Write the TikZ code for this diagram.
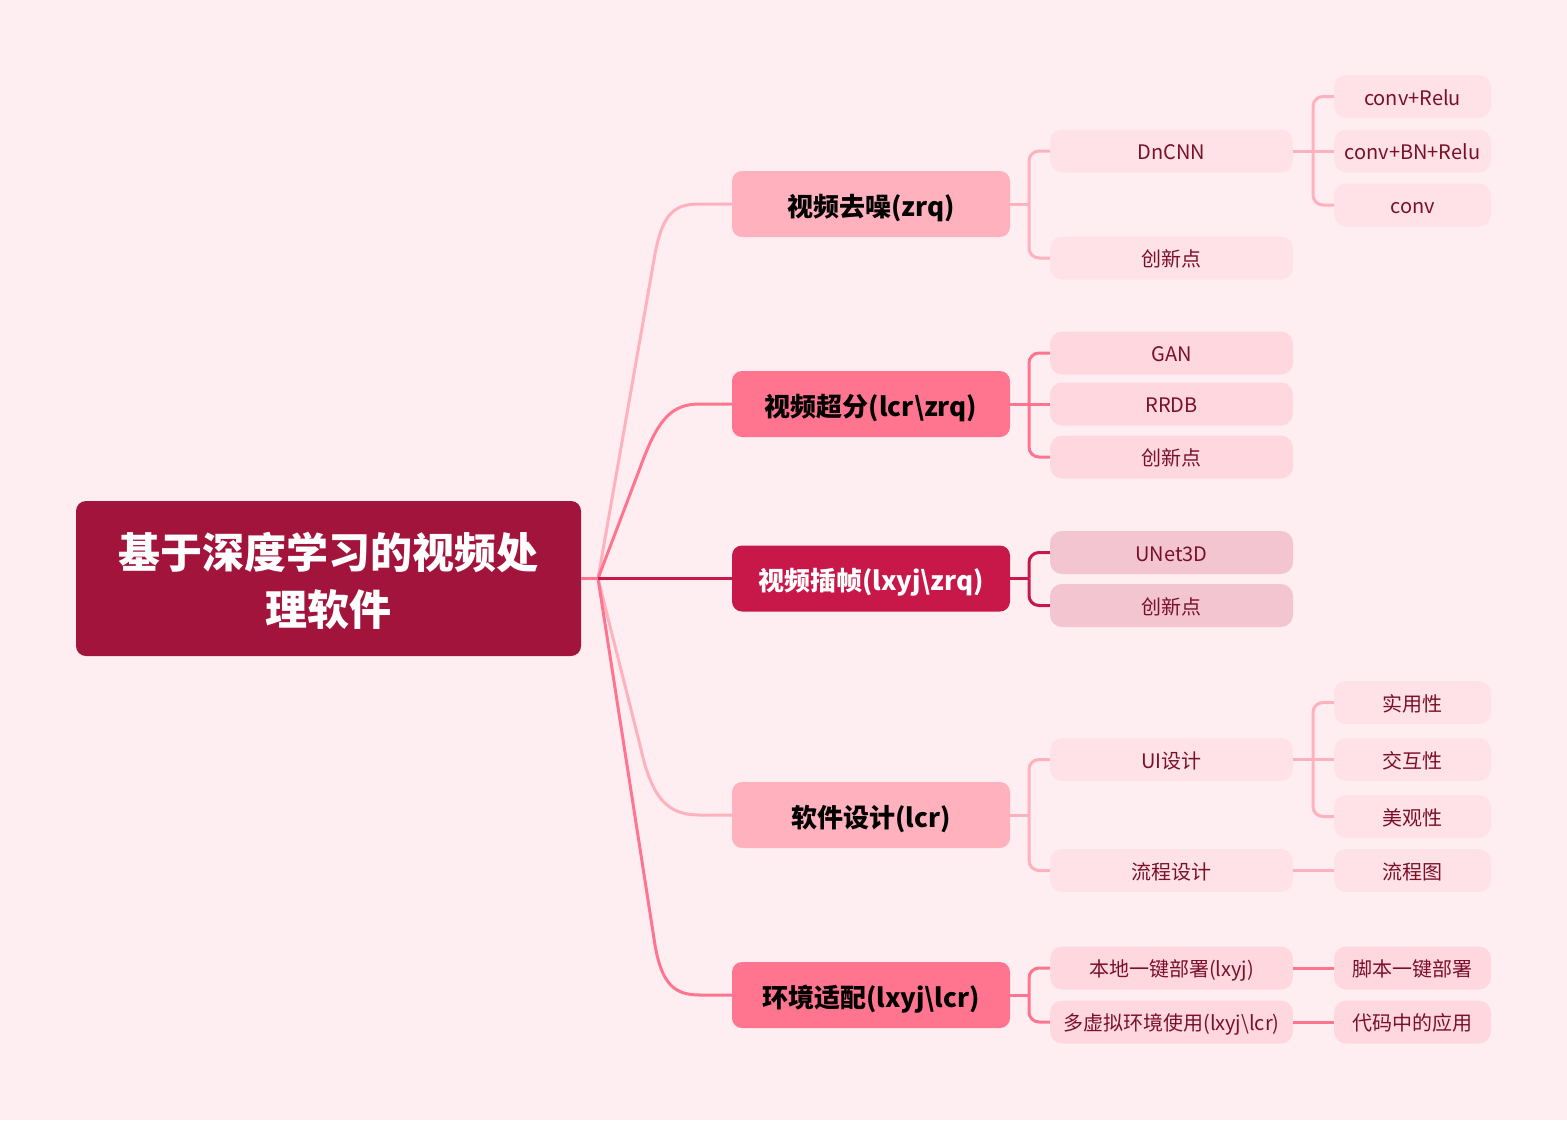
\documentclass[tikz,border=0pt]{standalone}
\usepackage{fontspec}
\setmainfont{Noto Sans CJK SC}
\definecolor{bg}{HTML}{FFEEF1}
\definecolor{rootc}{HTML}{A3143C}
\definecolor{pA}{HTML}{FFB1BE}
\definecolor{pB}{HTML}{FF7590}
\definecolor{pC}{HTML}{C8184A}
\definecolor{fA}{HTML}{FFE2E7}
\definecolor{fB}{HTML}{FFD8DF}
\definecolor{fC}{HTML}{F2C5D0}
\definecolor{txt}{HTML}{7A1028}
\tikzset{
 base/.style={rounded corners=10pt, inner sep=0pt},
 rootbox/.style={base, fill=rootc, text=white, minimum width=505pt, minimum height=155pt, font=\fontsize{42}{57}\selectfont\bfseries},
 lone/.style={base, minimum width=278pt, minimum height=66pt, font=\fontsize{26}{30}\selectfont\bfseries,
   execute at begin node={\rule[-0.2em]{0pt}{1.35em}}},
 ltwo/.style={base, rounded corners=12pt, minimum width=243pt, minimum height=43pt, text=txt, font=\fontsize{20}{24}\selectfont,
   execute at begin node={\rule[-0.2em]{0pt}{1.26em}}},
 lthree/.style={ltwo, minimum width=157pt},
 con/.style={line width=3pt},
 brk/.style={line width=3pt, rounded corners=10pt},
}
\begin{document}
\begin{tikzpicture}[x=1pt,y=-1pt]
\fill[bg] (0,0) rectangle (1567,1120);
\useasboundingbox (0,0) rectangle (1567,1120);

% root
\node[rootbox] (root) at (328.5,578.5) {\raisebox{-7pt}[\height][\depth]{\begin{tabular}{@{}c@{}}基于深度学习的视频处\\理软件\end{tabular}}};
\coordinate (fork) at (598,578.5);

% level 1
\node[lone, fill=pA] (n1) at (871,204) {视频去噪(zrq)};
\node[lone, fill=pB] (n2) at (871,404) {视频超分(lcr\textbackslash zrq)};
\node[lone, fill=pC, text=white] (n3) at (871,578.5) {视频插帧(lxyj\textbackslash zrq)};
\node[lone, fill=pA] (n4) at (871,815) {软件设计(lcr)};
\node[lone, fill=pB] (n5) at (871,995) {环境适配(lxyj\textbackslash lcr)};

% level 2
\node[ltwo, fill=fA] (a1) at (1171.5,151) {DnCNN};
\node[ltwo, fill=fA] (a2) at (1171.5,258) {创新点};
\node[ltwo, fill=fB] (b1) at (1171.5,353) {GAN};
\node[ltwo, fill=fB] (b2) at (1171.5,404) {RRDB};
\node[ltwo, fill=fB] (b3) at (1171.5,457) {创新点};
\node[ltwo, fill=fC] (c1) at (1171.5,552.5) {UNet3D};
\node[ltwo, fill=fC] (c2) at (1171.5,605.5) {创新点};
\node[ltwo, fill=fA] (d1) at (1171.5,759.5) {UI设计};
\node[ltwo, fill=fA] (d2) at (1171.5,870.5) {流程设计};
\node[ltwo, fill=fB] (e1) at (1171.5,968) {本地一键部署(lxyj)};
\node[ltwo, fill=fB] (e2) at (1171.5,1022) {多虚拟环境使用(lxyj\textbackslash lcr)};

% level 3
\node[lthree, fill=fA] (a11) at (1412.5,96.5) {conv+Relu};
\node[lthree, fill=fA] (a12) at (1412.5,151) {conv+BN+Relu};
\node[lthree, fill=fA] (a13) at (1412.5,205) {conv};
\node[lthree, fill=fA] (d11) at (1412.5,702.5) {实用性};
\node[lthree, fill=fA] (d12) at (1412.5,759.5) {交互性};
\node[lthree, fill=fA] (d13) at (1412.5,816.5) {美观性};
\node[lthree, fill=fA] (d21) at (1412.5,870.5) {流程图};
\node[lthree, fill=fB] (e11) at (1412.5,968) {脚本一键部署};
\node[lthree, fill=fB] (e21) at (1412.5,1022) {代码中的应用};

% root connectors
\draw[con, pA] (fork) -- (655,254) .. controls (663,212) and (675,204) .. (700,204) -- (n1.west);
\draw[con, pB] (fork) -- (640,468) .. controls (658,418) and (672,404) .. (700,404) -- (n2.west);
\draw[con, pA] (fork) -- (640,745) .. controls (652,800) and (668,815) .. (700,815) -- (n4.west);
\draw[con, pB] (fork) -- (655,945) .. controls (662,985) and (675,995) .. (700,995) -- (n5.west);
\draw[con, pB] (root.east) -- (fork);
\draw[con, pC] (fork) -- (n3.west);

% level1 -> level2
\coordinate (j1) at (1029,204);
\draw[con, pA] (n1.east) -- (j1);
\draw[brk, pA] (j1) -- (1029,151) -- (a1.west);
\draw[brk, pA] (j1) -- (1029,258) -- (a2.west);

\coordinate (j2) at (1029,404);
\draw[con, pB] (n2.east) -- (b2.west);
\draw[brk, pB] (j2) -- (1029,353) -- (b1.west);
\draw[brk, pB] (j2) -- (1029,457) -- (b3.west);

\coordinate (j3) at (1029,578.5);
\draw[con, pC] (n3.east) -- (j3);
\draw[brk, pC] (j3) -- (1029,552.5) -- (c1.west);
\draw[brk, pC] (j3) -- (1029,605.5) -- (c2.west);

\coordinate (j4) at (1029,815);
\draw[con, pA] (n4.east) -- (j4);
\draw[brk, pA] (j4) -- (1029,759.5) -- (d1.west);
\draw[brk, pA] (j4) -- (1029,870.5) -- (d2.west);

\coordinate (j5) at (1029,995);
\draw[con, pB] (n5.east) -- (j5);
\draw[brk, pB] (j5) -- (1029,968) -- (e1.west);
\draw[brk, pB] (j5) -- (1029,1022) -- (e2.west);

% level2 -> level3
\coordinate (k1) at (1313,151);
\draw[con, pA] (a1.east) -- (a12.west);
\draw[brk, pA] (k1) -- (1313,96.5) -- (a11.west);
\draw[brk, pA] (k1) -- (1313,205) -- (a13.west);

\coordinate (k2) at (1313,759.5);
\draw[con, pA] (d1.east) -- (d12.west);
\draw[brk, pA] (k2) -- (1313,702.5) -- (d11.west);
\draw[brk, pA] (k2) -- (1313,816.5) -- (d13.west);

\draw[con, pA] (d2.east) -- (d21.west);
\draw[con, pB] (e1.east) -- (e11.west);
\draw[con, pB] (e2.east) -- (e21.west);
\end{tikzpicture}
\end{document}
